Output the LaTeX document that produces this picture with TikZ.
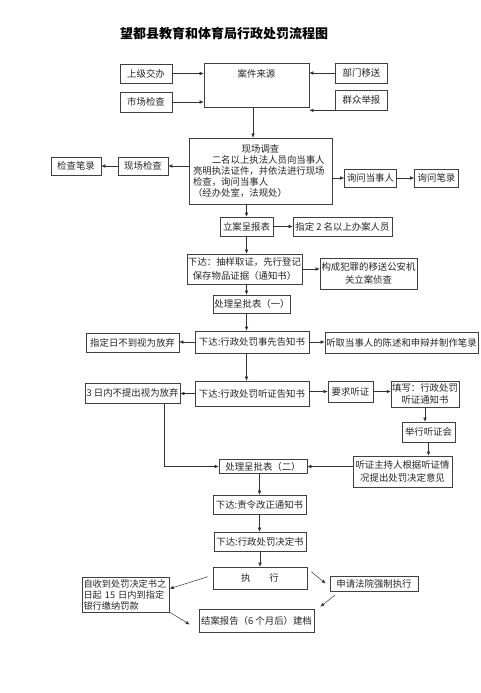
\documentclass[tikz,border=0pt]{standalone}
\usepackage{fontspec}
\setmainfont{Noto Sans CJK SC}
\usetikzlibrary{arrows.meta}

\begin{document}
\begin{tikzpicture}[
        x=1pt, y=-1pt,
        every node/.style={font=\fontsize{9.4}{12}\selectfont, text=black!85},
        box/.style={draw=black!75, line width=0.6pt, inner sep=1pt, align=center},
        arr/.style={draw=black!80, line width=0.5pt, -{Latex[length=4pt,width=3.5pt]}},
    ]
    \useasboundingbox[fill=white] (0,0) rectangle (481,693);

    % Title
    \node[font=\fontsize{13}{15}\selectfont\bfseries, text=black] (title) at (224,33) {望都县教育和体育局行政处罚流程图};

    % Case sources
    \node[box, minimum width=105, minimum height=44] (src) at (256.5,85) {};
    \node (srctext) at ([yshift=-11pt]src.north) {案件来源};
    \node[box, minimum width=52, minimum height=19] (sj) at (146,73.5) {上级交办};
    \node[box, minimum width=52, minimum height=20] (sc) at (146,102) {市场检查};
    \node[box, minimum width=52, minimum height=20] (bm) at (361.5,73) {部门移送};
    \node[box, minimum width=52, minimum height=20] (qz) at (361.5,100) {群众举报};

    % Investigation
    \node[box, minimum width=143, minimum height=66, text width=135pt, align=left,
          font=\fontsize{9.4}{11}\selectfont] (xc) at (260.5,171)
        {\makebox[135pt]{现场调查}\\\hspace*{2em}二名以上执法人员向当事人\\亮明执法证件，并依法进行现场\\检查，询问当事人\\（经办处室，法规处）};
    \node[box, minimum width=50, minimum height=18] (xj) at (143,166) {现场检查};
    \node[box, minimum width=50, minimum height=18] (jb) at (76,166) {检查笔录};
    \node[box, minimum width=52, minimum height=18] (xw) at (370.5,178) {询问当事人};
    \node[box, minimum width=44, minimum height=18] (wb) at (436.5,178) {询问笔录};

    % Filing
    \node[box, minimum width=53, minimum height=19] (la) at (246.5,226.5) {立案呈报表};
    \node[box, minimum width=99, minimum height=19] (zd) at (342.5,226.5) {指定 2 名以上办案人员};
    \node[box, minimum width=115, minimum height=30, font=\fontsize{9.4}{13.5}\selectfont] (cy) at (244.5,269)
        {下达：抽样取证，先行登记\\保存物品证据（通知书）};
    \node[box, minimum width=97, minimum height=31, font=\fontsize{9.4}{13.5}\selectfont] (fz) at (368.5,273.5)
        {构成犯罪的移送公安机\\关立案侦查};
    \node[box, minimum width=76, minimum height=18] (cp1) at (252,304) {处理呈批表（一）};

    % Prior notice
    \node[box, minimum width=114, minimum height=22] (gz) at (252,342) {下达:行政处罚事先告知书};
    \node[box, minimum width=93, minimum height=19] (fq1) at (132.5,342.5) {指定日不到视为放弃};
    \node[box, minimum width=153, minimum height=21] (tq) at (401.5,342.5) {听取当事人的陈述和申辩并制作笔录};

    % Hearing
    \node[box, minimum width=95, minimum height=20] (fq2) at (132.5,393) {3 日内不提出视为放弃};
    \node[box, minimum width=114, minimum height=25] (tz) at (252,393.5) {下达:行政处罚听证告知书};
    \node[box, minimum width=45, minimum height=21] (yq) at (350.5,391.5) {要求听证};
    \node[box, minimum width=66, minimum height=26, font=\fontsize{9.4}{11.5}\selectfont] (tx) at (425,394) {填写：行政处罚\\听证通知书};
    \node[box, minimum width=53, minimum height=20] (jx) at (428.5,432) {举行听证会};
    \node[box, minimum width=99, minimum height=31, font=\fontsize{9.4}{13}\selectfont] (zc) at (402.5,471.5)
        {听证主持人根据听证情\\况提出处罚决定意见};
    \node[box, minimum width=88, minimum height=14] (cp2) at (263,466.5) {处理呈批表（二）};

    % Decision and execution
    \node[box, minimum width=93, minimum height=19] (zl) at (259.5,504.5) {下达:责令改正通知书};
    \node[box, minimum width=92, minimum height=19] (jd) at (260,541.5) {下达:行政处罚决定书};
    \node[box, minimum width=94, minimum height=22] (zx) at (260,578) {执\hspace{2em}行};
    \node[box, minimum width=88, minimum height=15] (sq) at (374,583.5) {申请法院强制执行};
    \node[box, minimum width=86, minimum height=35, text width=85pt, align=left,
          font=\fontsize{9.2}{11}\selectfont] (fk) at (126,594.5)
        {自收到处罚决定书之\\日起 15 日内到指定\\银行缴纳罚款};
    \node[box, minimum width=115, minimum height=23] (ja) at (256.5,620.5) {结案报告（6 个月后）建档};

    % Connectors: sources
    \draw[arr] (sj.east) -- (sj.east -| src.west);
    \draw[arr] (sc.east) -- (sc.east -| src.west);
    \draw[arr] (bm.west) -- (bm.west -| src.east);
    \draw[arr] (qz.south west) -- (qz.south west -| src.east);
    \draw[arr] ([xshift=-3.5pt]src.south) -- ([xshift=-3.5pt]src.south |- xc.north);

    % Connectors: investigation
    \draw[arr] (xc.west |- xj.east) -- (xj.east);
    \draw[arr] (xj.west) -- (jb.east);
    \draw[arr] (xc.east |- xw.west) -- (xw.west);
    \draw[arr] (xw.east) -- (wb.west);
    \draw[arr] (la.north |- xc.south) -- (la.north);
    \draw[arr] (la.east) -- (zd.west);
    \draw[arr] (la.south) -- (la.south |- cy.north);
    \draw[arr] (cy.east) -- (cy.east -| fz.west);
    \draw[arr] (la.south |- cy.south) -- (la.south |- cp1.north);
    \draw[arr] (la.south |- cp1.south) -- (la.south |- gz.north);

    % Connectors: notice and hearing
    \draw[arr] (gz.west) -- (gz.west -| fq1.east);
    \draw[arr] (gz.east) -- (gz.east -| tq.west);
    \draw[arr] (la.south |- gz.south) -- (la.south |- tz.north);
    \draw[arr] (tz.west) -- (tz.west -| fq2.east);
    \draw[arr] (tz.east |- yq.west) -- (yq.west);
    \draw[arr] (yq.east) -- (yq.east -| tx.west);
    \draw[arr] (tx.south) -- (tx.south |- jx.north);
    \draw[arr] (jx.south) -- (jx.south |- zc.north);
    \draw[arr] (zc.west |- cp2.east) -- (cp2.east);
    \draw[arr] ([xshift=32pt]fq2.south) |- (cp2.west);

    % Connectors: decision
    \draw[arr] (zl.north |- cp2.south) -- (zl.north);
    \draw[arr] (zl.south) -- (zl.south |- jd.north);
    \draw[arr] (jd.south) -- (jd.south |- zx.north);
    \draw[arr] ([xshift=4pt,yshift=-5pt]zx.north east) -- ([xshift=-4pt]sq.west);
    \draw[arr] ([xshift=-5pt,yshift=-10pt]zx.north west) -- ([yshift=-12pt]fk.north east);
    \draw[arr] (fk.south east) -- ([xshift=-9pt,yshift=-4pt]ja.west);
    \draw[arr] ([xshift=5pt,yshift=-4pt]sq.south west) -- ([xshift=6pt,yshift=2pt]ja.north east);
\end{tikzpicture}
\end{document}
